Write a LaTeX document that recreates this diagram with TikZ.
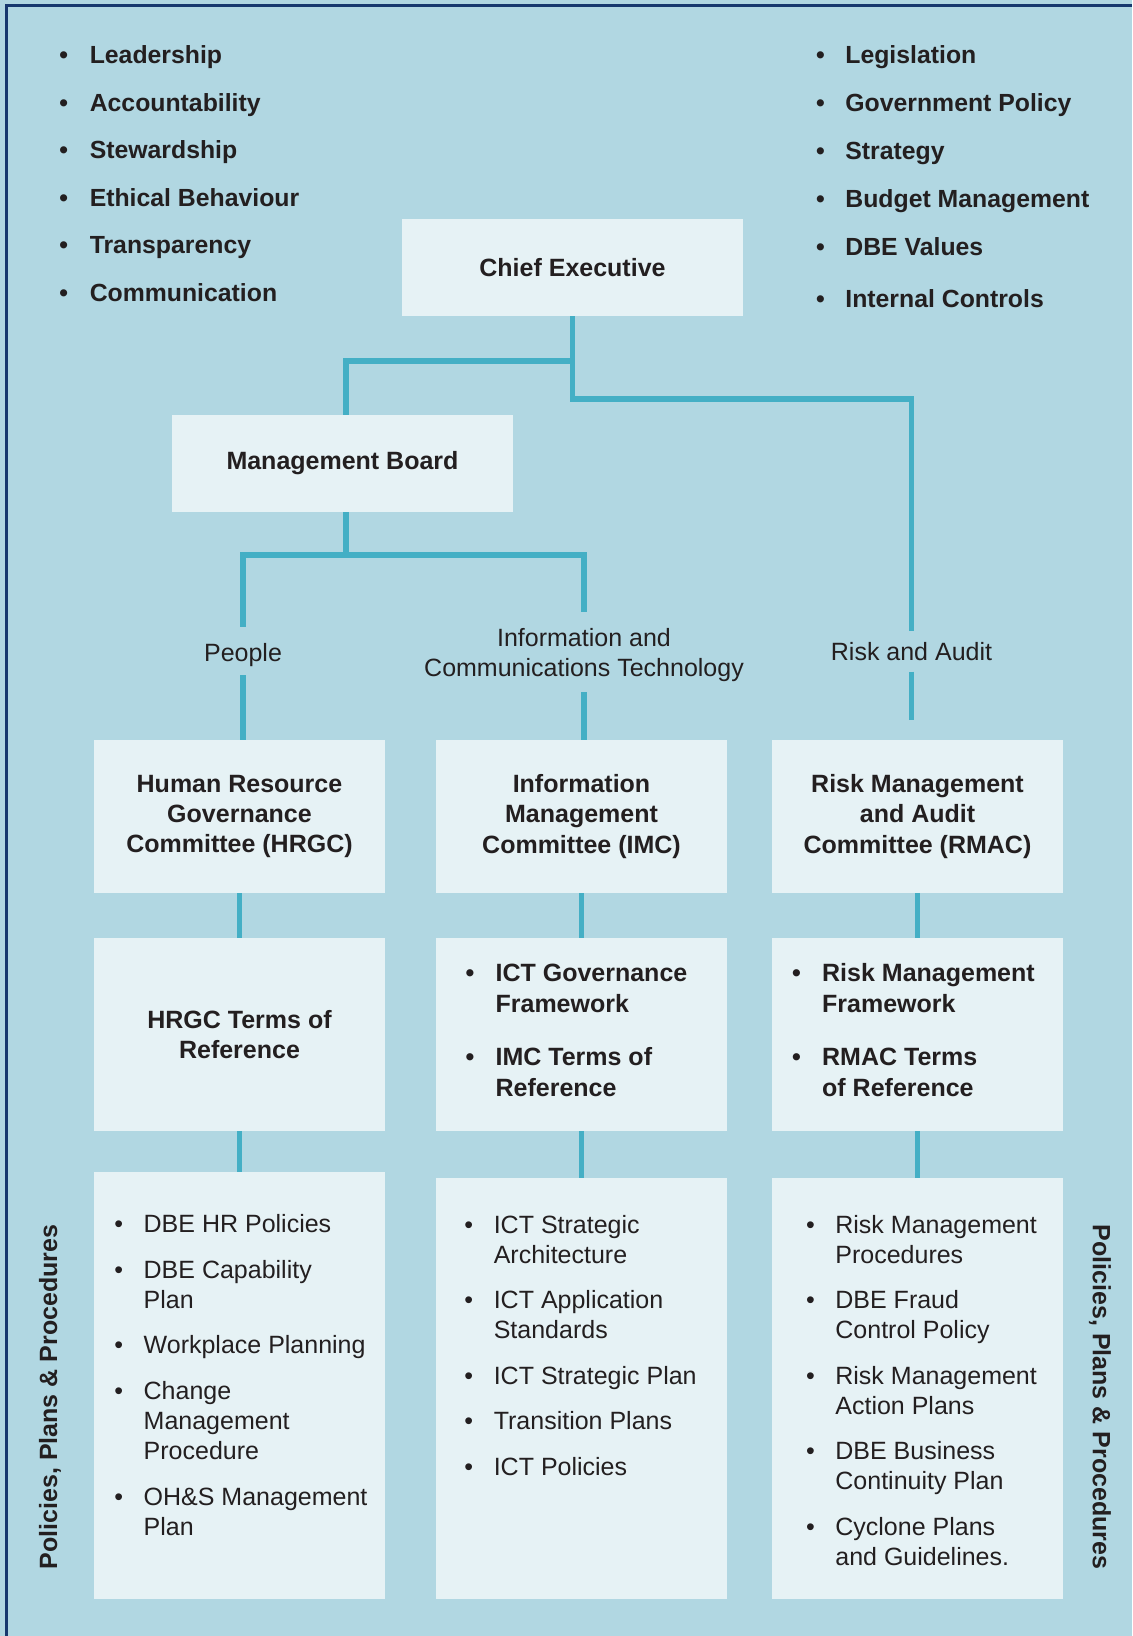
\documentclass[tikz,border=0pt]{standalone}
\usepackage{fontspec}
\setmainfont{Liberation Sans}
\usepackage{xcolor}
\usepackage{tikz}

\definecolor{bgblue}{HTML}{B1D7E2}
\definecolor{boxfill}{HTML}{E6F2F5}
\definecolor{linkteal}{HTML}{44AFC5}
\definecolor{framenavy}{HTML}{17386E}
\definecolor{inkdark}{HTML}{231F20}

\newcommand{\sz}{\fontsize{12.5}{15}\selectfont}
\newcommand{\szb}{\fontsize{12.5}{15.2}\selectfont\bfseries}

\begin{document}
\begin{tikzpicture}[x=0.5pt, y=-0.5pt,
    panel/.style={fill=boxfill, inner sep=0pt, align=center, text=inkdark, font=\szb},
    wide/.style={minimum width=170.5pt, minimum height=48.5pt},
    col/.style={minimum width=145.5pt},
    link/.style={draw=linkteal, line width=2.6pt},
    tag/.style={inner sep=0pt, text=inkdark, font=\sz, align=center},
    bullets/.style={anchor=base west, inner sep=0pt, text=inkdark}]
\useasboundingbox (0,0) rectangle (1132,1636);
\fill[bgblue] (0,0) rectangle (1132,1636);
\draw[framenavy, line width=1.3pt] (6.3,1636) |- (1132,5.6);

% values and obligations
\node[bullets, font=\fontsize{12.4}{15}\selectfont\bfseries] (values) at (59,64) {%
  \begin{tabular}[t]{@{}p{15.2pt}@{}l@{}}
  \textbullet & Leadership\\[8.75pt]
  \textbullet & Accountability\\[8.75pt]
  \textbullet & Stewardship\\[8.75pt]
  \textbullet & Ethical Behaviour\\[8.75pt]
  \textbullet & Transparency\\[8.75pt]
  \textbullet & Communication
  \end{tabular}};
\node[bullets, font=\fontsize{12.4}{15}\selectfont\bfseries] (duties) at (815.6,64) {%
  \begin{tabular}[t]{@{}p{14.7pt}@{}l@{}}
  \textbullet & Legislation\\[8.9pt]
  \textbullet & Government Policy\\[8.9pt]
  \textbullet & Strategy\\[8.9pt]
  \textbullet & Budget Management\\[8.9pt]
  \textbullet & DBE Values\\[11pt]
  \textbullet & Internal Controls
  \end{tabular}};

% top of the tree
\node[panel, wide] (ce) at (572.5,267.5) {Chief Executive};
\node[panel, wide] (mb) at (342.5,463.5) {Management Board};

% committees
\node[panel, col, minimum height=76.5pt] (hrgc) at (239.5,816.5) {Human Resource\\Governance\\Committee (HRGC)};
\node[panel, col, minimum height=76.5pt] (imc) at (581.5,816.5) {Information\\Management\\Committee (IMC)};
\node[panel, col, minimum height=76.5pt] (rmac) at (917.5,816.5) {Risk Management\\and Audit\\Committee (RMAC)};

% frameworks and terms of reference
\node[panel, col, minimum height=96.5pt] (hrgcref) at (239.5,1034.5) {HRGC Terms of\\Reference};
\node[panel, col, minimum height=96.5pt] (imcref) at (581.5,1034.5) {};
\node[panel, col, minimum height=96.5pt] (rmacref) at (917.5,1034.5) {};
\node[bullets, font=\szb] (imcrefl) at (465.2,981.7) {%
  \begin{tabular}[t]{@{}p{15pt}@{}l@{}}
  \textbullet & ICT Governance\\ & Framework\\[11.7pt]
  \textbullet & IMC Terms of\\ & Reference
  \end{tabular}};
\node[bullets, font=\szb] (rmacrefl) at (791.6,981.7) {%
  \begin{tabular}[t]{@{}p{15.1pt}@{}l@{}}
  \textbullet & Risk Management\\ & Framework\\[11.7pt]
  \textbullet & RMAC Terms\\ & of Reference
  \end{tabular}};

% policies, plans and procedures
\node[panel, col, minimum height=213.5pt] (hrgcpol) at (239.5,1385.5) {};
\node[panel, col, minimum height=210.5pt] (imcpol) at (581.5,1388.5) {};
\node[panel, col, minimum height=210.5pt] (rmacpol) at (917.5,1388.5) {};
\node[bullets, font=\sz] (hrgcpoll) at (113.9,1232.7) {%
  \begin{tabular}[t]{@{}p{14.7pt}@{}l@{}}
  \textbullet & DBE HR Policies\\[7.8pt]
  \textbullet & DBE Capability\\ & Plan\\[7.8pt]
  \textbullet & Workplace Planning\\[7.8pt]
  \textbullet & Change\\ & Management\\ & Procedure\\[7.8pt]
  \textbullet & OH\&S Management\\ & Plan
  \end{tabular}};
\node[bullets, font=\sz] (imcpoll) at (464,1233) {%
  \begin{tabular}[t]{@{}p{14.7pt}@{}l@{}}
  \textbullet & ICT Strategic\\ & Architecture\\[7.8pt]
  \textbullet & ICT Application\\ & Standards\\[7.8pt]
  \textbullet & ICT Strategic Plan\\[7.8pt]
  \textbullet & Transition Plans\\[7.8pt]
  \textbullet & ICT Policies
  \end{tabular}};
\node[bullets, font=\sz] (rmacpoll) at (805.6,1233) {%
  \begin{tabular}[t]{@{}p{14.7pt}@{}l@{}}
  \textbullet & Risk Management\\ & Procedures\\[7.8pt]
  \textbullet & DBE Fraud\\ & Control Policy\\[7.8pt]
  \textbullet & Risk Management\\ & Action Plans\\[7.8pt]
  \textbullet & DBE Business\\ & Continuity Plan\\[7.8pt]
  \textbullet & Cyclone Plans\\ & and Guidelines.
  \end{tabular}};
\node[tag, font=\sz\bfseries, rotate=90] (sideleft) at (50,1397) {Policies, Plans \& Procedures};
\node[tag, font=\sz\bfseries, rotate=-90] (sideright) at (1100,1397) {Policies, Plans \& Procedures};

% branch labels
\node[tag, anchor=base] (people) at (243,661.7) {People};
\node[tag, font=\fontsize{12.5}{15.35}\selectfont] (ict) at (584,655) {Information and\\Communications Technology};
\node[tag, anchor=base] (risk) at (911.5,660.7) {Risk and Audit};

% connectors
\coordinate (cel) at (572.5,361);
\coordinate (cej) at (572.5,399);
\coordinate (mbtop) at (346,415);
\coordinate (mbjoin) at (346,555);
\draw[link, shorten >=5.4pt] (ce.south) -- (cej) -| (risk.north);
\draw[link] (mbtop) |- (cel);
\draw[link] (mbjoin |- mb.south) -- (mbjoin);
\draw[link, shorten <=8.2pt, shorten >=7.9pt] (people.north) |- (mbjoin) -| (ict.north);
\draw[link, shorten <=4pt] (people.south) -- (people.south |- hrgc.north);
\draw[link, shorten <=5pt] (ict.south) -- (ict.south |- imc.north);
\draw[link, shorten <=5.1pt, shorten >=10pt] (risk.south) -- (risk.south |- rmac.north);
\foreach \a/\b in {hrgc/hrgcref, imc/imcref, rmac/rmacref,
                   hrgcref/hrgcpol, imcref/imcpol, rmacref/rmacpol}
  \draw[link] (\a.south) -- (\b.north);
\end{tikzpicture}
\end{document}
